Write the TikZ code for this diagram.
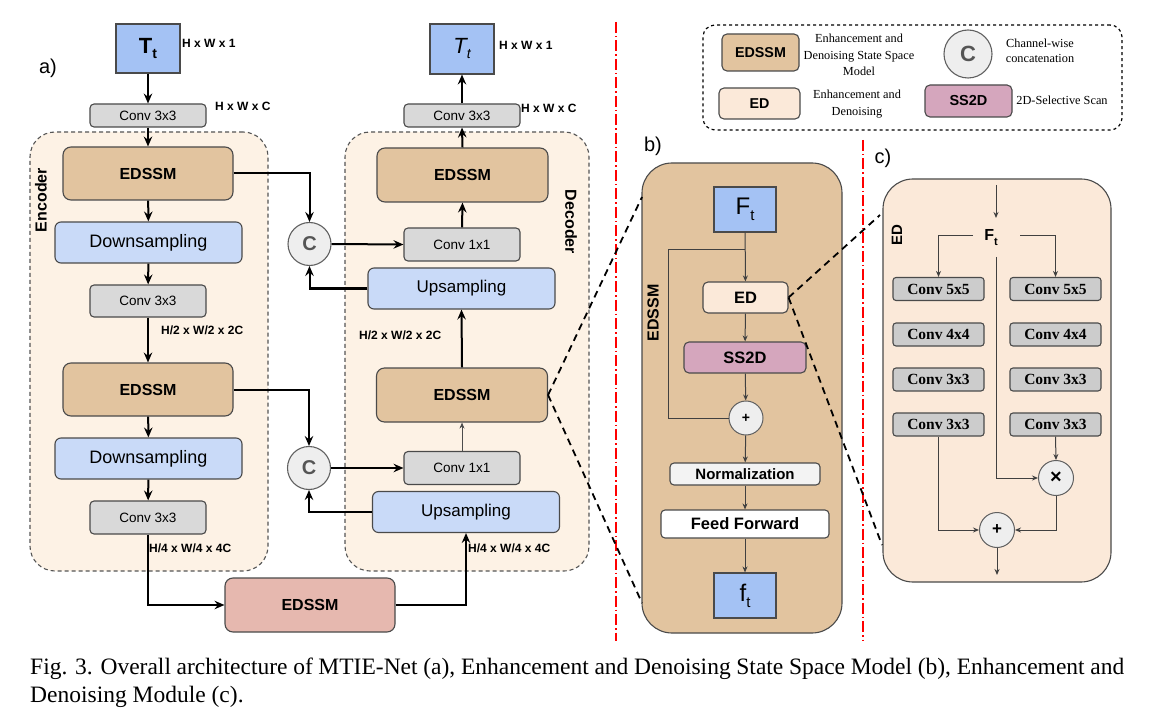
\documentclass[tikz,border=0pt]{standalone}
\usepackage{fontspec}
\setmainfont{Liberation Serif}
\setsansfont{Liberation Sans}
\newfontfamily\arialf{Liberation Sans}
\newfontfamily\tnrf{Liberation Serif}
\usetikzlibrary{arrows.meta,calc}
\definecolor{tanc}{HTML}{E2C49F}
\definecolor{peach}{HTML}{FDF2E5}
\definecolor{edc}{HTML}{FBE9D9}
\definecolor{bluec}{HTML}{A4C2F4}
\definecolor{lblue}{HTML}{C9DAF8}
\definecolor{grayc}{HTML}{D9D9D9}
\definecolor{cgray}{HTML}{CCCCCC}
\definecolor{pinkc}{HTML}{E6B8AF}
\definecolor{ssc}{HTML}{D5A6BD}
\definecolor{normc}{HTML}{F3F3F3}
\definecolor{circc}{HTML}{EEEEEE}
\definecolor{bordc}{HTML}{4A4A4A}
\definecolor{ctext}{HTML}{555555}
\newcommand\fsz[2]{\fontsize{#1}{#2}\selectfont}
\begin{document}
\begin{tikzpicture}[x=1pt,y=-1pt,
  blk/.style={draw=bordc,line width=1.1pt,inner sep=0pt},
  edssm/.style={blk,fill=tanc,rounded corners=8pt,minimum width=170pt,minimum height=53pt,font=\arialf\bfseries\fsz{16}{19}},
  convbox/.style={blk,fill=grayc,rounded corners=4pt,minimum width=116pt,font=\arialf\fsz{13.5}{16}},
  samp/.style={blk,fill=lblue,rounded corners=6pt,minimum width=187pt,minimum height=41pt,font=\arialf\fsz{17.5}{20}},
  img/.style={blk,fill=bluec,minimum width=64pt,minimum height=49pt},
  cat/.style={circle,draw=gray!75!black,fill=circc,line width=1.1pt,minimum size=43pt,inner sep=0pt,font=\arialf\bfseries\fsz{20}{22},text=ctext},
  opc/.style={circle,draw=gray!75!black,fill=circc,line width=1pt,minimum size=35pt,inner sep=0pt,font=\arialf\bfseries\fsz{17}{18}},
  dimlab/.style={font=\arialf\bfseries\fsz{12}{13},inner sep=0pt,anchor=west},
  container/.style={draw=ctext,line width=1.1pt,dash pattern=on 4pt off 3pt,fill=peach,rounded corners=25pt,inner sep=0pt},
  marr/.style={line width=2pt,-{Stealth[length=10pt,width=8.5pt,inset=3.5pt]}},
  tarr/.style={line width=1pt,draw=black!75,-{Stealth[length=6pt,width=5pt]}},
  tline/.style={line width=1pt,draw=black!75},
  zoomln/.style={line width=1.8pt,dash pattern=on 7pt off 5pt},
  redln/.style={red,line width=1.5pt,dash pattern=on 11pt off 3pt on 1.5pt off 3pt},
  cconv/.style={blk,fill=cgray,rounded corners=3pt,minimum width=91pt,minimum height=23pt,font=\tnrf\bfseries\fsz{15.5}{18}},
  legtxt/.style={font=\tnrf\fsz{12.3}{16.5},align=center,inner sep=0pt},
  rotlab/.style={font=\arialf\bfseries\fsz{16}{18},inner sep=0pt}
]
\useasboundingbox[fill=white] (0,0) rectangle (1156,727);

% containers
\node[container,minimum width=238pt,minimum height=439pt] (enc) at (149,351.5) {};
\node[container,minimum width=244pt,minimum height=439pt] (dec) at (467,351.5) {};
\node[rotlab,rotate=90] (enclab) at (41,200) {Encoder};
\node[rotlab,rotate=-90] (declab) at (571,222) {Decoder};
\node[font=\arialf\fsz{20}{22},inner sep=0pt] (alab) at (48,68) {a)};

% red separators
\coordinate (r1t) at (616,22); \coordinate (r1b) at (616,641);
\coordinate (r2t) at (863,140); \coordinate (r2b) at (863,641);
\draw[redln] (r1t) -- (r1b);
\draw[redln] (r2t) -- (r2b);

% part a nodes
\node[img] (tin) at (148,48.5) {\arialf\bfseries\fsz{22}{24}T\raisebox{-5pt}{\fsz{14}{14}t}};
\node[dimlab] (d1) at (182,43) {H x W x 1};
\node[convbox,minimum height=23pt] (conv0) at (148,115.5) {Conv 3x3};
\node[dimlab] (d2) at (215,106) {H x W x C};
\node[edssm] (ed1) at (148,173.5) {EDSSM};
\node[samp,font=\arialf\fsz{18}{20}] (down1) at (148.5,242.5) {Downsampling};
\node[convbox,minimum height=32pt] (conv1) at (148,301) {Conv 3x3};
\node[dimlab] (d3) at (161,330) {H/2 x W/2 x 2C};
\node[edssm] (ed2) at (148,389.5) {EDSSM};
\node[samp,font=\arialf\fsz{18}{20}] (down2) at (148.5,458.5) {Downsampling};
\node[convbox,minimum height=33pt] (conv2) at (148,517.5) {Conv 3x3};
\node[dimlab] (d4) at (149,548) {H/4 x W/4 x 4C};
\node[edssm,fill=pinkc,minimum height=54pt] (bott) at (310,605) {EDSSM};

\node[samp,font=\arialf\fsz{17}{20}] (up2) at (466,512) {Upsampling};
\node[dimlab] (d5) at (468,548) {H/4 x W/4 x 4C};
\node[convbox,minimum height=33pt] (c1b) at (462,468) {Conv 1x1};
\node[cat] (cb) at (309,468) {C};
\node[edssm,minimum width=171pt,minimum height=54pt] (ded2) at (462,395) {EDSSM};
\node[dimlab] (d6) at (359,335) {H/2 x W/2 x 2C};
\node[samp,font=\arialf\fsz{17}{20}] (up1) at (461.5,288.5) {Upsampling};
\node[convbox,minimum height=33pt] (c1a) at (462,244.5) {Conv 1x1};
\node[cat] (ca) at (309.5,244) {C};
\node[edssm,minimum width=171pt,minimum height=54pt] (ded1) at (462.5,175) {EDSSM};
\node[convbox,minimum height=23pt] (conv3) at (462,115.5) {Conv 3x3};
\node[dimlab] (d7) at (521,108) {H x W x C};
\node[img,minimum height=50pt] (tout) at (462,49) {\arialf\itshape\fsz{22}{24}T\raisebox{-5pt}{\fsz{14}{14}t}};
\node[dimlab] (d8) at (499,45) {H x W x 1};

% part a arrows
\draw[marr] (tin) -- (conv0);
\draw[marr] (conv0) -- (ed1);
\draw[marr] (ed1) -- (down1);
\draw[marr] (down1) -- (conv1);
\draw[marr] (conv1) -- (ed2);
\draw[marr] (ed2) -- (down2);
\draw[marr] (down2) -- (conv2);
\draw[marr] (conv2.south) |- (bott.west);
\draw[marr] (bott.east) -| (up2.south);
\draw[marr] (ed1.east) -| (ca.north);
\draw[marr] (ca.east) -- (c1a.west);
\draw[marr] (up1.west) -| (ca.south);
\draw[marr] (ed2.east) -| (cb.north);
\draw[marr] (cb.east) -- (c1b.west);
\draw[marr] (up2.west) -| (cb.south);
\draw[tarr,draw=black!70] (c1b.north) -- (ded2.south);
\draw[marr] (ded2.north) -- (up1.south);
\draw[marr] (c1a.north) -- (ded1.south);
\draw[marr] (ded1.north) -- (conv3.south);
\draw[marr] (conv3.north) -- (tout.south);

% part b
\node[font=\arialf\fsz{20}{22},inner sep=0pt] (blab) at (653,146) {b)};
\node[blk,fill=tanc,rounded corners=30pt,minimum width=200pt,minimum height=470pt] (bbox) at (742,398) {};
\node[rotlab,rotate=90] (bl) at (653,313) {EDSSM};
\node[img,minimum width=62pt,minimum height=45pt] (fin) at (745,209.5) {\arialf\fsz{24}{26}F\raisebox{-6pt}{\fsz{15}{15}t}};
\node[blk,fill=edc,rounded corners=5pt,minimum width=85pt,minimum height=31pt,font=\arialf\bfseries\fsz{16.5}{18}] (edb) at (745.5,297.5) {ED};
\node[blk,fill=ssc,rounded corners=5pt,minimum width=122pt,minimum height=31pt,font=\arialf\bfseries\fsz{16.5}{18}] (ssb) at (745,357.5) {SS2D};
\node[opc,minimum size=34pt,font=\arialf\bfseries\fsz{14}{16}] (plb) at (746,418) {+};
\node[blk,fill=normc,rounded corners=4pt,minimum width=150pt,minimum height=22pt,font=\arialf\bfseries\fsz{15}{17}] (normb) at (745,474) {Normalization};
\node[blk,fill=white,rounded corners=4pt,minimum width=168pt,minimum height=28pt,font=\arialf\bfseries\fsz{16.5}{18}] (ffb) at (745,524) {Feed Forward};
\node[img,minimum width=62pt,minimum height=45pt] (fout) at (745,595.5) {\arialf\fsz{24}{26}f\raisebox{-6pt}{\fsz{15}{15}t}};
\coordinate (skip) at (745,250);
\coordinate (skipl) at (668,250);
\draw[tarr] (fin) -- (edb);
\draw[tarr] (edb) -- (ssb);
\draw[tarr] (ssb) -- (plb);
\draw[tarr] (plb) -- (normb);
\draw[tarr] (normb) -- (ffb);
\draw[tarr] (ffb) -- (fout);
\draw[tline] (skip) -- (skipl) |- (plb.west);

% part c
\node[font=\arialf\fsz{20}{22},inner sep=0pt] (clab) at (883,158) {c)};
\node[blk,fill=edc,rounded corners=30pt,minimum width=228pt,minimum height=403pt] (cbox) at (997,380.5) {};
\node[rotlab,font=\arialf\bfseries\fsz{15}{17},rotate=90] (cl) at (897,235) {ED};
\node[inner sep=0pt,font=\arialf\bfseries\fsz{16}{18}] (ftc) at (991,238) {F\raisebox{-5pt}{\fsz{11}{11}t}};
\node[cconv] (l1) at (938.5,289) {Conv 5x5};
\node[cconv] (l2) at (938.5,334.5) {Conv 4x4};
\node[cconv] (l3) at (938.5,379.5) {Conv 3x3};
\node[cconv] (l4) at (938.5,424.5) {Conv 3x3};
\node[cconv] (r1) at (1055.5,289) {Conv 5x5};
\node[cconv] (r2) at (1055.5,334.5) {Conv 4x4};
\node[cconv] (r3) at (1055.5,379.5) {Conv 3x3};
\node[cconv] (r4) at (1055.5,424.5) {Conv 3x3};
\node[opc,font=\arialf\bfseries\fsz{20}{20}] (mul) at (1056,478) {×};
\node[opc] (plc) at (997,530) {+};
\coordinate (cin) at (996,185);
\coordinate (cinE) at (996,218);
\coordinate (ftl) at (973,236);
\coordinate (ftr) at (1020,236);
\coordinate (ftb) at (996,257);
\coordinate (cout) at (997,575);
\draw[tarr] (cin) -- (cinE);
\draw[tarr] (ftl) -| (l1.north);
\draw[tarr] (ftr) -| (r1.north);
\draw[tarr] (ftb) |- (mul.west);
\draw[tarr] (r4.south) -- (mul.north);
\draw[tarr] (l4.south) |- (plc.west);
\draw[tarr] (mul.south) |- (plc.east);
\draw[tarr] (plc.south) -- (cout);

% zoom lines
\coordinate (bz1) at (642,197);
\coordinate (bz2) at (642,603);
\coordinate (cz1) at (880,215);
\coordinate (cz2) at (882,545);
\draw[zoomln] (ded2.east) -- (bz1);
\draw[zoomln] (ded2.east) -- (bz2);
\draw[zoomln] (edb.east) -- (cz1);
\draw[zoomln] (edb.east) -- (cz2);

% legend
\node[draw=black,dashed,line width=1.2pt,rounded corners=12pt,minimum width=419pt,minimum height=105pt,inner sep=0pt] (leg) at (912.5,77.5) {};
\node[blk,fill=tanc,rounded corners=5pt,minimum width=77pt,minimum height=37pt,font=\arialf\bfseries\fsz{14.3}{16}] (lg1) at (760.5,52.5) {EDSSM};
\node[legtxt] (lt1) at (859,55) {Enhancement and\\Denoising State Space\\Model};
\node[cat,minimum size=48pt,font=\arialf\bfseries\fsz{22}{24}] (lg2) at (968,54) {C};
\node[legtxt,font=\tnrf\fsz{12.3}{15}] (lt2) at (1040,51) {Channel-wise\\concatenation};
\node[blk,fill=edc,rounded corners=5pt,minimum width=81pt,minimum height=31pt,font=\arialf\bfseries\fsz{14.3}{16}] (lg3) at (759.5,103.5) {ED};
\node[legtxt] (lt3) at (857,104) {Enhancement and\\Denoising};
\node[blk,fill=ssc,rounded corners=5pt,minimum width=87pt,minimum height=32pt,font=\arialf\bfseries\fsz{14.5}{16}] (lg4) at (968.5,101) {SS2D};
\node[legtxt] (lt4) at (1062,100) {2D-Selective Scan};

% caption
\node[anchor=base west,inner sep=0pt,font=\tnrf\fsz{23.5}{28}] (cap1) at (30,674) {\makebox[1094pt][s]{Fig. 3. Overall architecture of MTIE-Net (a), Enhancement and Denoising State Space Model (b), Enhancement and}};
\node[anchor=base west,inner sep=0pt,font=\tnrf\fsz{23.5}{28}] (cap2) at (30,702) {Denoising Module (c).};
\end{tikzpicture}
\end{document}
